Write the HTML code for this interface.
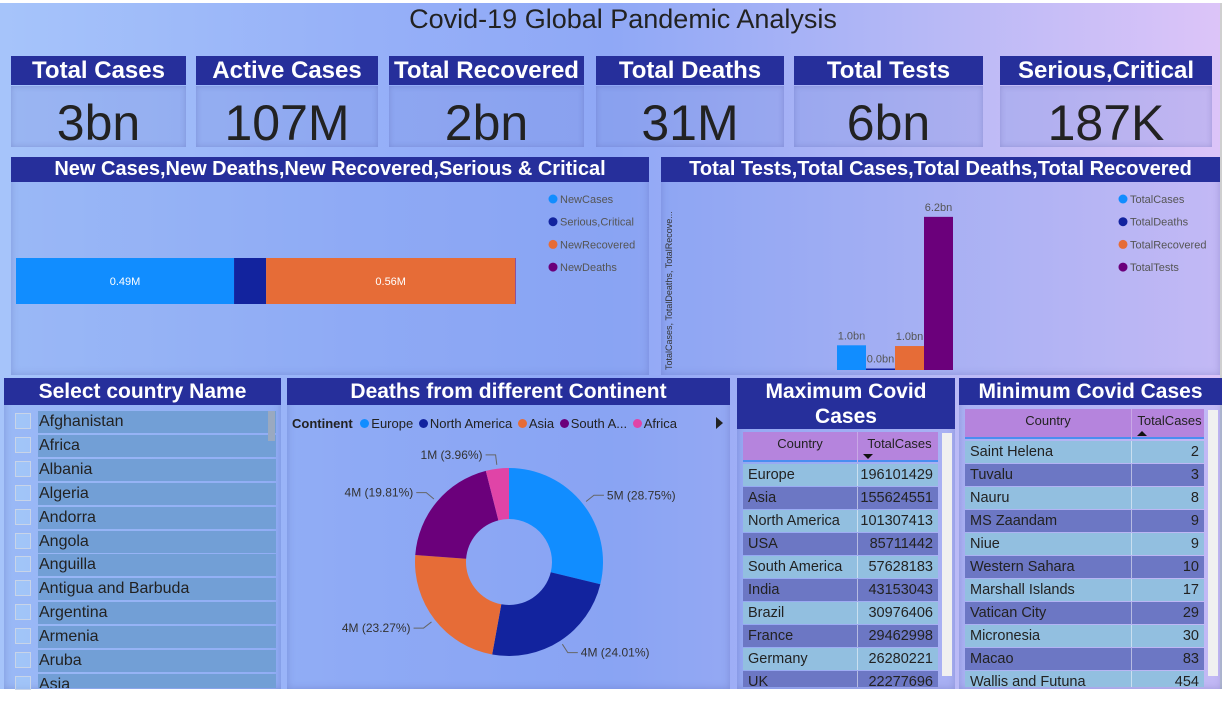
<!DOCTYPE html>
<html><head><meta charset="utf-8">
<style>
*{box-sizing:border-box;margin:0;padding:0}
body{width:1227px;height:703px;overflow:hidden;background:#fff;font-family:"Liberation Sans",sans-serif;position:relative}
#canvas{position:absolute;left:0;top:3px;width:1222px;height:686px;background:linear-gradient(90deg,#a6c4fa 0%,#96b0f8 30%,#8fa8f6 50%,#b5b8f6 75%,#dcc4f8 100%);border-right:2px solid #cfcfcf}
.abs{position:absolute}
.hdr{position:absolute;background:#262f9b;color:#fff;text-align:center;font-weight:bold;white-space:nowrap;overflow:hidden}
.kbody{position:absolute;background:rgba(120,140,220,0.25);box-shadow:inset 0 0 6px rgba(60,60,140,0.25);text-align:center;color:#222;font-size:50px;line-height:61px}
.panel{position:absolute;background:rgba(120,150,235,0.25);box-shadow:inset 0 0 8px rgba(60,60,140,0.25)}
.row{position:absolute;height:22px;font-family:"Liberation Sans",sans-serif;font-size:15px;color:#222;line-height:22px}
#svgmain{z-index:5}
</style></head><body>
<div id="canvas"></div>
<div class="abs" style="left:0;width:1246px;top:4px;text-align:center;font-size:27px;color:#222">Covid-19 Global Pandemic Analysis</div>

<div id="kpis"></div>

<div class="panel" style="left:11px;top:157px;width:638px;height:218px"></div>
<div class="hdr" style="left:11px;top:157px;width:638px;height:25px;font-size:20px;line-height:25px">New Cases,New Deaths,New Recovered,Serious &amp; Critical</div>

<div class="panel" style="left:661px;top:157px;width:559px;height:218px"></div>
<div class="hdr" style="left:661px;top:157px;width:559px;height:25px;font-size:20px;line-height:25px">Total Tests,Total Cases,Total Deaths,Total Recovered</div>
<div class="abs" style="left:664px;top:370px;transform:rotate(-90deg);transform-origin:0 0;font-size:9px;color:#333;white-space:nowrap;width:178px;overflow:hidden">TotalCases, TotalDeaths, TotalRecove...</div>

<div class="panel" style="left:4px;top:378px;width:277px;height:311px"></div>
<div class="hdr" style="left:4px;top:378px;width:277px;height:27px;font-size:21px;line-height:27px">Select country Name</div>
<div id="slicer"></div>
<div class="abs" style="left:268px;top:411px;width:7px;height:30px;background:#9aa9c0"></div>

<div class="panel" style="left:287px;top:378px;width:443px;height:311px"></div>
<div class="hdr" style="left:287px;top:378px;width:443px;height:27px;font-size:21px;line-height:27px">Deaths from different Continent</div>
<div class="abs" style="left:292px;top:416px;font-size:13px;color:#222;white-space:nowrap">
<b>Continent</b>
<span><i style="display:inline-block;width:9px;height:9px;border-radius:50%;background:#118dff;margin:0 2px 0 4px"></i>Europe</span>
<span><i style="display:inline-block;width:9px;height:9px;border-radius:50%;background:#12239e;margin:0 2px 0 2px"></i>North America</span>
<span><i style="display:inline-block;width:9px;height:9px;border-radius:50%;background:#e66c37;margin:0 2px 0 2px"></i>Asia</span>
<span><i style="display:inline-block;width:9px;height:9px;border-radius:50%;background:#6b007b;margin:0 2px 0 2px"></i>South A...</span>
<span><i style="display:inline-block;width:9px;height:9px;border-radius:50%;background:#e044a7;margin:0 2px 0 2px"></i>Africa</span>
</div>
<div class="abs" style="left:716px;top:417px;width:0;height:0;border-left:7px solid #222;border-top:6px solid transparent;border-bottom:6px solid transparent"></div>

<div class="panel" style="left:737px;top:378px;width:218px;height:311px"></div>
<div class="hdr" style="left:737px;top:378px;width:218px;height:51px;font-size:21px;line-height:25px;white-space:normal;padding-top:1px">Maximum Covid Cases</div>
<div id="maxtable"></div>
<div class="abs" style="left:942px;top:433px;width:10px;height:243px;background:#f0f0f0"></div>

<div class="panel" style="left:959px;top:378px;width:263px;height:311px"></div>
<div class="hdr" style="left:959px;top:378px;width:263px;height:27px;font-size:21px;line-height:27px">Minimum Covid Cases</div>
<div id="mintable"></div>
<div class="abs" style="left:1208px;top:410px;width:10px;height:266px;background:#f0f0f0"></div>

<svg class="abs" style="left:0;top:0" width="1227" height="703" id="svgmain"></svg>

<script>
const kpiLabels=["Total Cases","Active Cases","Total Recovered","Total Deaths","Total Tests","Serious,Critical"];
const kpiValues=["3bn","107M","2bn","31M","6bn","187K"];
const newCats=["NewCases","Serious,Critical","NewRecovered","NewDeaths"];
const newVals=[0.49,0.072,0.56,0.001];
const newLabels=["0.49M","","0.56M",""];
const totCats=["TotalCases","TotalDeaths","TotalRecovered","TotalTests"];
const totVals=[1.0,0.03,0.97,6.2];
const totLabels=["1.0bn","0.0bn","1.0bn","6.2bn"];
const contCats=["Europe","North America","Asia","South America","Africa"];
const contPct=[28.75,24.01,23.27,19.81,3.96];
const contLabels=["5M (28.75%)","4M (24.01%)","4M (23.27%)","4M (19.81%)","1M (3.96%)"];
const countries=["Afghanistan","Africa","Albania","Algeria","Andorra","Angola","Anguilla","Antigua and Barbuda","Argentina","Armenia","Aruba","Asia"];
const maxNames=["Europe","Asia","North America","USA","South America","India","Brazil","France","Germany","UK"];
const maxVals=[196101429,155624551,101307413,85711442,57628183,43153043,30976406,29462998,26280221,22277696];
const minNames=["Saint Helena","Tuvalu","Nauru","MS Zaandam","Niue","Western Sahara","Marshall Islands","Vatican City","Micronesia","Macao","Wallis and Futuna"];
const minVals=[2,3,8,9,9,10,17,29,30,83,454];

const colors=["#118dff","#12239e","#e66c37","#6b007b","#e044a7"];
const NS="http://www.w3.org/2000/svg";
function mk(tag,attrs,parent){const e=document.createElementNS(NS,tag);for(const k in attrs)e.setAttribute(k,attrs[k]);parent.appendChild(e);return e;}

const kx=[[11,186],[196,378],[389,584],[596,784],[794,983],[1000,1212]];
const kp=document.getElementById('kpis');
kpiLabels.forEach((l,i)=>{
  const h=document.createElement('div');h.className='hdr';
  
  
  h.style.cssText=`left:${kx[i][0]}px;top:56px;width:${kx[i][1]-kx[i][0]}px;height:29px;font-size:24px;line-height:30px`;
  h.textContent=l;kp.appendChild(h);
  const b=document.createElement('div');b.className='kbody';
  
  
  b.style.cssText=`left:${kx[i][0]}px;top:86px;width:${kx[i][1]-kx[i][0]}px;height:61px;padding-top:7px`;
  b.textContent=kpiValues[i];kp.appendChild(b);
});

const svg=document.getElementById('svgmain');
const bx=v=>v*445;
let cur=16;
newVals.forEach((v,i)=>{
  const w=bx(v);
  const r=mk('rect',{x:cur,y:258,width:w,height:46,fill:colors[i]},svg);
  
  
  if(newLabels[i]){const t=mk('text',{x:cur+w/2,y:285,'text-anchor':'middle','font-size':11,fill:'#fff','font-family':'Liberation Sans, sans-serif'},svg);t.textContent=newLabels[i];
    
    }
  cur+=w;
});
newCats.forEach((c,i)=>{
  const g=mk('g',{},svg);
  
  
  mk('circle',{cx:553,cy:199+i*22.7,r:4.5,fill:colors[i]},g);
  const t=mk('text',{x:560,y:203+i*22.7,'font-size':11,fill:'#555','font-family':'Liberation Sans, sans-serif'},g);t.textContent=c;
});
const base=370, ys=v=>v*24.7;
const tx=[837,866,895,924];
totVals.forEach((v,i)=>{
  const h=Math.max(ys(v),1.5);
  const r=mk('rect',{x:tx[i],y:base-h,width:29,height:h,fill:colors[i]},svg);
  
  
  const t=mk('text',{x:tx[i]+14.5,y:base-h-6,'text-anchor':'middle','font-size':11,fill:'#555','font-family':'Liberation Sans, sans-serif'},svg);t.textContent=totLabels[i];
  
  
});
totCats.forEach((c,i)=>{
  const g=mk('g',{},svg);
  
  
  mk('circle',{cx:1123,cy:199+i*22.7,r:4.5,fill:colors[i]},g);
  const t=mk('text',{x:1130,y:203+i*22.7,'font-size':11,fill:'#555','font-family':'Liberation Sans, sans-serif'},g);t.textContent=c;
});
const cx=509,cy=562,R=94,r0=43;
let ang=0;const tot=contPct.reduce((a,b)=>a+b,0);
const pt=(a,rr)=>[cx+rr*Math.sin(a),cy-rr*Math.cos(a)];
contPct.forEach((p,i)=>{
  const a0=ang,a1=ang+p/tot*2*Math.PI;ang=a1;
  const lg=(a1-a0)>Math.PI?1:0;
  const [x0,y0]=pt(a0,R),[x1,y1]=pt(a1,R),[x2,y2]=pt(a1,r0),[x3,y3]=pt(a0,r0);
  const s=mk('path',{d:`M${x0} ${y0}A${R} ${R} 0 ${lg} 1 ${x1} ${y1}L${x2} ${y2}A${r0} ${r0} 0 ${lg} 0 ${x3} ${y3}Z`,fill:colors[i]},svg);
  
  
  const am=(a0+a1)/2;
  const [lx,ly]=pt(am,R+4),[ex,ey]=pt(am,R+14);
  const right=Math.sin(am)>=0;
  const hx=ex+(right?10:-10);
  mk('polyline',{points:`${lx},${ly} ${ex},${ey} ${hx},${ey}`,fill:'none',stroke:'#666','stroke-width':1},svg);
  const t=mk('text',{x:hx+(right?3:-3),y:ey+4,'text-anchor':right?'start':'end','font-size':12,fill:'#333','font-family':'Liberation Sans, sans-serif'},svg);
  t.textContent=contLabels[i];
  
  
});

const sl=document.getElementById('slicer');
countries.forEach((c,i)=>{
  const y=411+i*23.9;
  if(y>688)return;
  const h=Math.min(22,688-y);
  const cb=document.createElement('div');
  
  
  cb.style.cssText=`position:absolute;left:15px;top:${y+2}px;width:16px;height:${Math.min(16,h)}px;border:1px solid #c8d4e8;background:rgba(170,210,250,0.5)`;
  sl.appendChild(cb);
  const r=document.createElement('div');r.className='row';
  
  
  r.style.cssText+=`left:38px;top:${y}px;width:238px;height:${h}px;overflow:hidden;background:#729fd6;padding-left:1px;font-size:16px`;
  r.textContent=c;sl.appendChild(r);
});

function table(el,x,wc,wv,top,names,vals,arrow,prefix){
  const hd=document.createElement('div');
  
  
  hd.style.cssText=`position:absolute;left:${x}px;top:${top}px;width:${wc+wv}px;height:30px;background:#b584dd;border-bottom:2px solid #4a8ef0;font-size:13px;color:#222`;
  hd.innerHTML=`<div style="position:absolute;left:0;width:${wc}px;top:4px;text-align:center">Country</div><div style="position:absolute;left:${wc}px;top:0;height:30px;border-left:1px solid #c9a8e6"></div><div style="position:absolute;left:${wc+2}px;width:${wv}px;top:4px;text-align:center">TotalCases</div><div style="position:absolute;left:${wc+6}px;top:22px;width:0;height:0;border-left:5px solid transparent;border-right:5px solid transparent;${arrow==='down'?'border-top:5px solid #111':'border-bottom:5px solid #111'}"></div>`;
  el.appendChild(hd);
  names.forEach((n,i)=>{
    const y=top+32+i*23;
    if(y>687)return;
    const h=Math.min(22,687-y);
    const r=document.createElement('div');r.className='row';
    
    
    r.style.cssText+=`left:${x}px;top:${y}px;width:${wc+wv}px;height:${h}px;overflow:hidden;background:${i%2?'#6c77c4':'#92bfe0'};font-size:14.5px`;
    r.innerHTML=`<span style="position:absolute;left:5px">${n}</span><span style="position:absolute;left:${wc}px;top:0;height:22px;border-left:1px solid rgba(255,255,255,0.5)"></span><span style="position:absolute;right:5px">${vals[i]}</span>`;
    el.appendChild(r);
  });
}
table(document.getElementById('maxtable'),743,114,81,432,maxNames,maxVals,'down','max-table');
table(document.getElementById('mintable'),965,166,73,409,minNames,minVals,'up','min-table');
</script>
</body></html>
